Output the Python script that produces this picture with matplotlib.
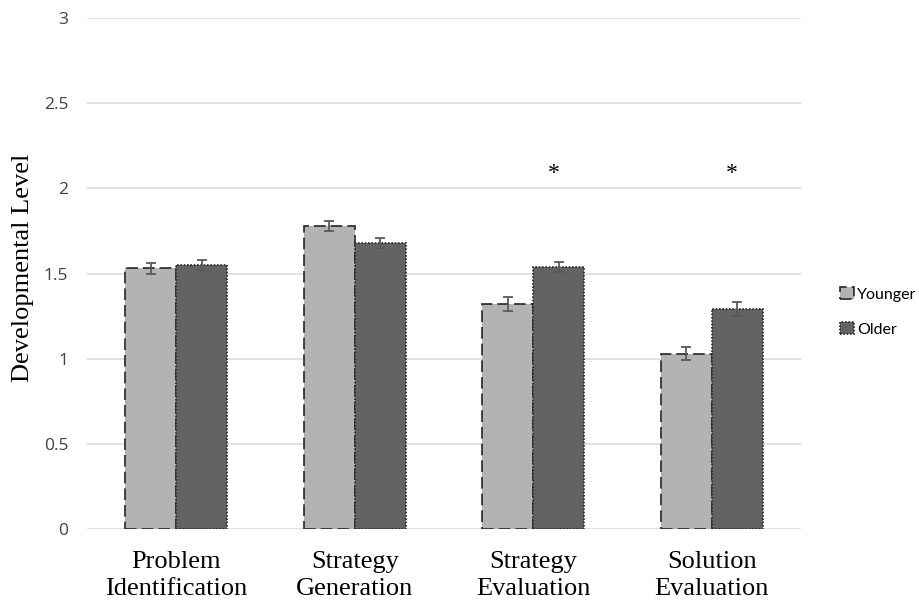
import numpy as np
from matplotlib import pyplot as plt

# Developmental level by age group for each problem-solving phase
categories = ['Problem\nIdentification', 'Strategy\nGeneration', 'Strategy\nEvaluation', 'Solution\nEvaluation']
younger = [1.53, 1.78, 1.32, 1.03]
older = [1.55, 1.68, 1.54, 1.29]
younger_err = [0.03, 0.03, 0.04, 0.04]
older_err = [0.03, 0.03, 0.03, 0.04]
significant = [False, False, True, True]  # older vs younger difference
star_level = 2.09

W, H = 919, 605
fig = plt.figure(figsize=(W / 100, H / 100), dpi=100)
ax = fig.add_axes([87 / W, 1 - 529 / H, (801 - 87) / W, (529 - 18) / H])

x = np.arange(len(categories))
w = 0.286

b1 = ax.bar(x - w / 2, younger, w, color='#b3b3b3', edgecolor='#262626',
            linestyle=(0, (7, 3)), linewidth=1.2, label='Younger', zorder=3)
b2 = ax.bar(x + w / 2, older, w, color='#636363', edgecolor='#262626',
            linestyle=(0, (1, 1)), linewidth=1.2, label='Older', zorder=3)

ax.errorbar(x - w / 2, younger, yerr=younger_err, fmt='none', ecolor='#5a5a5a',
            elinewidth=1.3, capsize=3.7, capthick=1.3, zorder=4)
ax.errorbar(x + w / 2, older, yerr=older_err, fmt='none', ecolor='#5a5a5a',
            elinewidth=1.3, capsize=3.7, capthick=1.3, zorder=4)

for i, s in enumerate(significant):
    if s:
        ax.text(x[i] + w / 2 - 0.03, star_level, '*', ha='center', va='center',
                fontsize=17, family='Liberation Serif', color='black')

ax.set_xlim(-0.5, len(categories) - 0.5)
ax.set_ylim(0, 3)
ax.set_yticks([0, 0.5, 1, 1.5, 2, 2.5, 3])
ax.set_yticklabels(['0', '0.5', '1', '1.5', '2', '2.5', '3'])
ax.grid(axis='y', color='#d9d9d9', linewidth=1.1, zorder=0)
for sp in ax.spines.values():
    sp.set_visible(False)
ax.tick_params(axis='y', length=0, pad=13.5, labelsize=12.5, labelcolor='#404040')
ax.tick_params(axis='x', length=0, pad=16)
for lab in ax.get_yticklabels():
    lab.set_family('Open Sans')
ax.set_xticks(x)
ax.set_xticklabels(categories, family='Liberation Serif', fontsize=19, linespacing=1.3)

fig.text(23 / W, 1 - 268 / H, 'Developmental Level', rotation=90, ha='center', va='center',
         family='Liberation Serif', fontsize=19)

fig.legend(handles=[b1, b2], loc='center left', bbox_to_anchor=(832 / W, 1 - 312 / H),
           frameon=False, borderpad=0, handlelength=0.85, handleheight=0.75, handletextpad=0.2,
           labelspacing=1.3, prop={'family': 'Lato', 'size': 11.5})

fig.savefig('out.png', dpi=100)
